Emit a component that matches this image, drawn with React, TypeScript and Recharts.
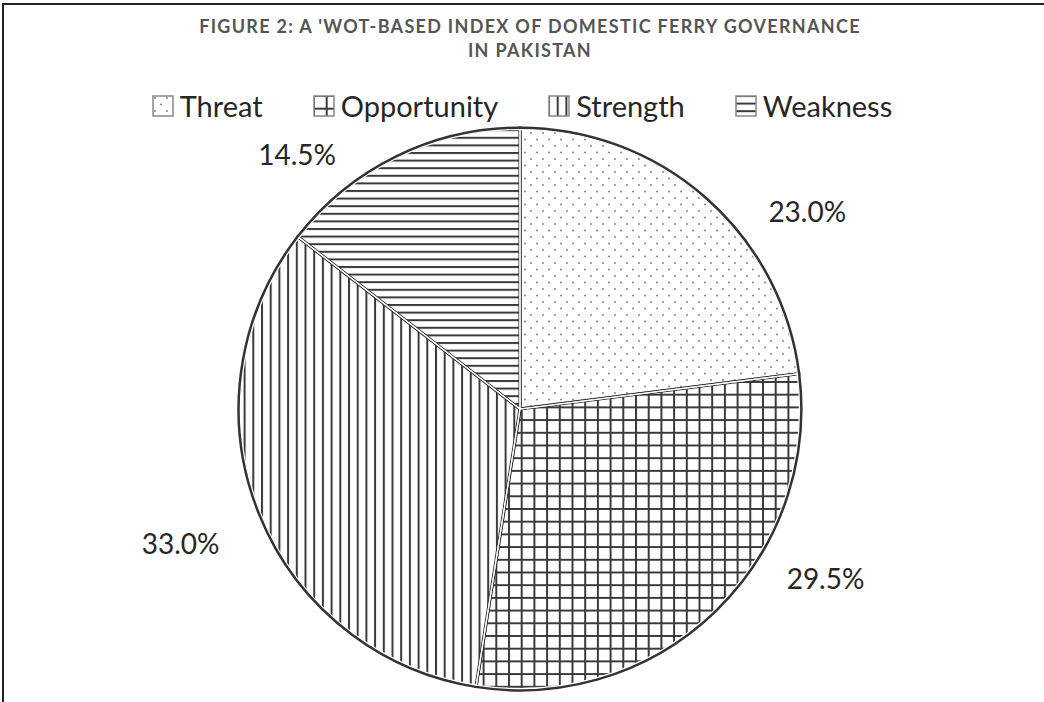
import React from 'react';
import { PieChart, Pie, Cell } from 'recharts';

const categories = ['Threat', 'Opportunity', 'Strength', 'Weakness'];
const values = [23.0, 29.5, 33.0, 14.5];
const patternIds = ['pat-dots', 'pat-grid', 'pat-vert', 'pat-horiz'];
// label placement tweaks (angular nudge in deg, extra radius in px) to follow the original
const labelNudge = [-14, 17, 0, 15];
const labelGap = [68, 68, 84, 58];

const data = categories.map((name, i) => ({ name, value: values[i] }));

const RAD = Math.PI / 180;
const FONT = 'Lato, "Open Sans", sans-serif';

const renderLabel = (props: any) => {
  const { cx, cy, midAngle, outerRadius, value, index } = props;
  const angle = midAngle + labelNudge[index];
  const r = outerRadius + labelGap[index];
  const x = cx + Math.cos(-angle * RAD) * r;
  const y = cy + Math.sin(-angle * RAD) * r;
  return (
    <text
      x={x}
      y={y}
      textAnchor="middle"
      dominantBaseline="central"
      fontFamily={FONT}
      fontSize={28}
      fill="#262626"
    >
      {`${Number(value).toFixed(1)}%`}
    </text>
  );
};

const LegendBlock = () => (
  <div
    style={{
      position: 'absolute',
      left: 0,
      top: 88,
      width: 1044,
      display: 'flex',
      justifyContent: 'center',
      alignItems: 'center',
      gap: 50,
      fontFamily: FONT,
      fontSize: 29,
      color: '#262626',
      lineHeight: '36px',
    }}
  >
    {categories.map((c, i) => (
      <div key={c} style={{ display: 'flex', alignItems: 'center' }}>
        <svg width={22} height={22} style={{ marginRight: 6 }}>
          <rect x={1} y={1} width={20} height={20} fill={`url(#${patternIds[i]})`} stroke="#888" strokeWidth={1.5} />
        </svg>
        <span>{c}</span>
      </div>
    ))}
  </div>
);

export default function App() {
  return (
    <div style={{ position: 'absolute', left: 0, top: 0, width: 1044, height: 702, background: '#fff' }}>
      <div style={{ position: 'absolute', left: 2, top: 3, width: 1042, height: 2, background: '#222' }} />
      <div style={{ position: 'absolute', left: 2, top: 3, width: 2, height: 699, background: '#222' }} />
      <div style={{ position: 'absolute', left: 0, top: 0 }}>
        <PieChart width={1044} height={702} margin={{ top: 0, right: 0, bottom: 0, left: 0 }}>
          <defs>
            <pattern id="pat-dots" patternUnits="userSpaceOnUse" width={12} height={13}>
              <rect width={12} height={13} fill="#fff" />
              <circle cx={3} cy={3} r={0.9} fill="#777" />
              <circle cx={9} cy={9.5} r={0.9} fill="#777" />
            </pattern>
            <pattern id="pat-grid" patternUnits="userSpaceOnUse" width={12.7} height={12.7}>
              <rect width={12.7} height={12.7} fill="#fff" />
              <path d="M1 0 V12.7 M0 1 H12.7" stroke="#3a3a3a" strokeWidth={2} />
            </pattern>
            <pattern id="pat-vert" patternUnits="userSpaceOnUse" width={8.7} height={10}>
              <rect width={8.7} height={10} fill="#fff" />
              <path d="M1 0 V10" stroke="#3a3a3a" strokeWidth={2} />
            </pattern>
            <pattern id="pat-horiz" patternUnits="userSpaceOnUse" width={10} height={7.6}>
              <rect width={10} height={7.6} fill="#fff" />
              <path d="M0 1 H10" stroke="#3a3a3a" strokeWidth={2} />
            </pattern>
          </defs>
          <Pie
            data={data}
            dataKey="value"
            nameKey="name"
            cx={520}
            cy={409}
            outerRadius={281}
            startAngle={90}
            endAngle={-270}
            stroke="#333"
            strokeWidth={3.2}
            label={renderLabel}
            labelLine={false}
            isAnimationActive={false}
          >
            {data.map((d, i) => (
              <Cell key={d.name} fill={`url(#${patternIds[i]})`} />
            ))}
          </Pie>
          <Pie
            data={data}
            dataKey="value"
            nameKey="name"
            cx={520}
            cy={409}
            outerRadius={279.5}
            startAngle={90}
            endAngle={-270}
            fill="none"
            stroke="#fff"
            strokeWidth={1.2}
            label={false}
            labelLine={false}
            isAnimationActive={false}
          >
            {data.map((d) => (
              <Cell key={d.name} fill="none" />
            ))}
          </Pie>
        </PieChart>
      </div>
      <div
        style={{
          position: 'absolute',
          left: 8,
          top: 14,
          width: 1044,
          textAlign: 'center',
          fontFamily: FONT,
          fontWeight: 700,
          fontSize: 18,
          letterSpacing: 1.3,
          lineHeight: '24px',
          color: '#555',
        }}
      >
        FIGURE 2: A 'WOT-BASED INDEX OF DOMESTIC FERRY GOVERNANCE
        <br />
        IN PAKISTAN
      </div>
      <LegendBlock />
    </div>
  );
}
